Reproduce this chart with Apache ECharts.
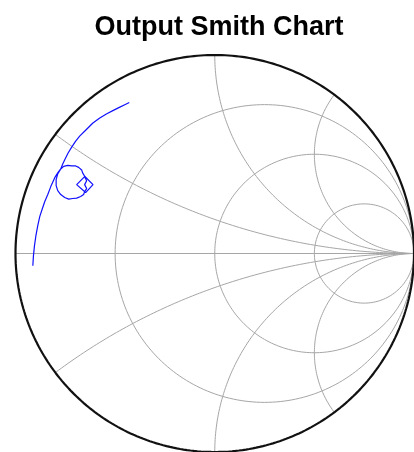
<!DOCTYPE html>
<html>
<head>
<meta charset="utf-8">
<script src="https://cdn.jsdelivr.net/npm/echarts@6/dist/echarts.min.js"></script>
<style>
html,body{margin:0;padding:0;background:#fff;}
#chart{width:414px;height:452px;}
</style>
</head>
<body>
<div id="chart"></div>
<script>
// Smith chart grid values (normalized resistance and reactance)
const resistanceValues = [1/3, 1, 3];
const reactanceValues = [1/3, 1, 2];

// Measured reflection coefficient trace (real / imaginary parts of Gamma)
const traceRe = [
  -0.913,-0.910,-0.905,-0.898,-0.888,-0.878,-0.865,-0.853,-0.838,-0.823,-0.803,-0.788,-0.773,
  -0.758,-0.738,-0.718,-0.698,-0.683,-0.668,-0.663,-0.653,-0.611,-0.648,-0.693,-0.653,-0.643,
  -0.653,-0.643,-0.653,-0.658,-0.673,-0.693,-0.713,-0.733,-0.753,-0.773,-0.788,-0.796,-0.796,
  -0.788,-0.773,
  -0.763,-0.751,-0.736,-0.718,-0.698,-0.678,-0.648,-0.613,-0.579,-0.544,-0.509,-0.479,-0.449,-0.429
];
const traceIm = [
  -0.062,-0.012,0.037,0.087,0.142,0.187,0.227,0.262,0.297,0.337,0.382,0.406,0.426,
  0.439,0.444,0.441,0.441,0.434,0.421,0.406,0.389,0.347,0.307,0.347,0.387,0.367,
  0.347,0.327,0.312,0.297,0.287,0.279,0.277,0.274,0.282,0.297,0.317,0.342,0.372,
  0.401,0.426,
  0.451,0.476,0.506,0.536,0.566,0.591,0.621,0.656,0.681,0.703,0.721,0.736,0.751,0.761
];

function arc(cx, cy, R, t0, t1, n) {
  const pts = [];
  for (let i = 0; i <= n; i++) {
    const t = t0 + (t1 - t0) * i / n;
    pts.push([cx + R * Math.cos(t), cy + R * Math.sin(t)]);
  }
  return pts;
}

const gridColor = '#a6a6a6';
const series = [];

// horizontal real axis
series.push({type:'line', data:[[-1,0],[1,0]], showSymbol:false, clip:false, silent:true,
  lineStyle:{color:gridColor, width:1}});

// constant resistance circles
resistanceValues.forEach(r => {
  series.push({type:'line', data: arc(r/(1+r), 0, 1/(1+r), 0, 2*Math.PI, 240),
    showSymbol:false, clip:false, silent:true, lineStyle:{color:gridColor, width:1}});
});

// constant reactance arcs (inside unit circle)
reactanceValues.forEach(x => {
  [1, -1].forEach(s => {
    const cy = 1 / x, R = 1 / x;
    const ix = (x*x - 1) / (x*x + 1), iy = 2*x / (x*x + 1);
    let ti = Math.atan2(iy - cy, ix - 1);
    if (ti < 0) ti += 2*Math.PI;
    const pts = arc(1, cy, R, ti, 1.5*Math.PI, 200).map(p => [p[0], s * p[1]]);
    series.push({type:'line', data: pts, showSymbol:false, clip:false, silent:true,
      lineStyle:{color:gridColor, width:1}});
  });
});

// outer unit circle
series.push({type:'line', data: arc(0, 0, 1, 0, 2*Math.PI, 360), showSymbol:false, clip:false,
  silent:true, lineStyle:{color:'#111', width:2.2}});

// trace
series.push({type:'line', data: traceRe.map((v, i) => [v, traceIm[i]]), showSymbol:false,
  clip:false, lineStyle:{color:'#1010ff', width:1.2}});

const chart = echarts.init(document.getElementById('chart'), null, {renderer:'canvas'});
chart.setOption({
  animation:false,
  backgroundColor:'#fff',
  title:{text:'Output Smith Chart', left:214, textAlign:'center', top:9,
    textStyle:{fontFamily:'Liberation Sans, Arial, sans-serif', fontWeight:'bold', fontSize:27, color:'#000'}},
  grid:{left:15.5, top:55, width:401, height:401},
  xAxis:{type:'value', min:-1, max:1, show:false},
  yAxis:{type:'value', min:-1, max:1, show:false},
  series: series
});
</script>
</body>
</html>
